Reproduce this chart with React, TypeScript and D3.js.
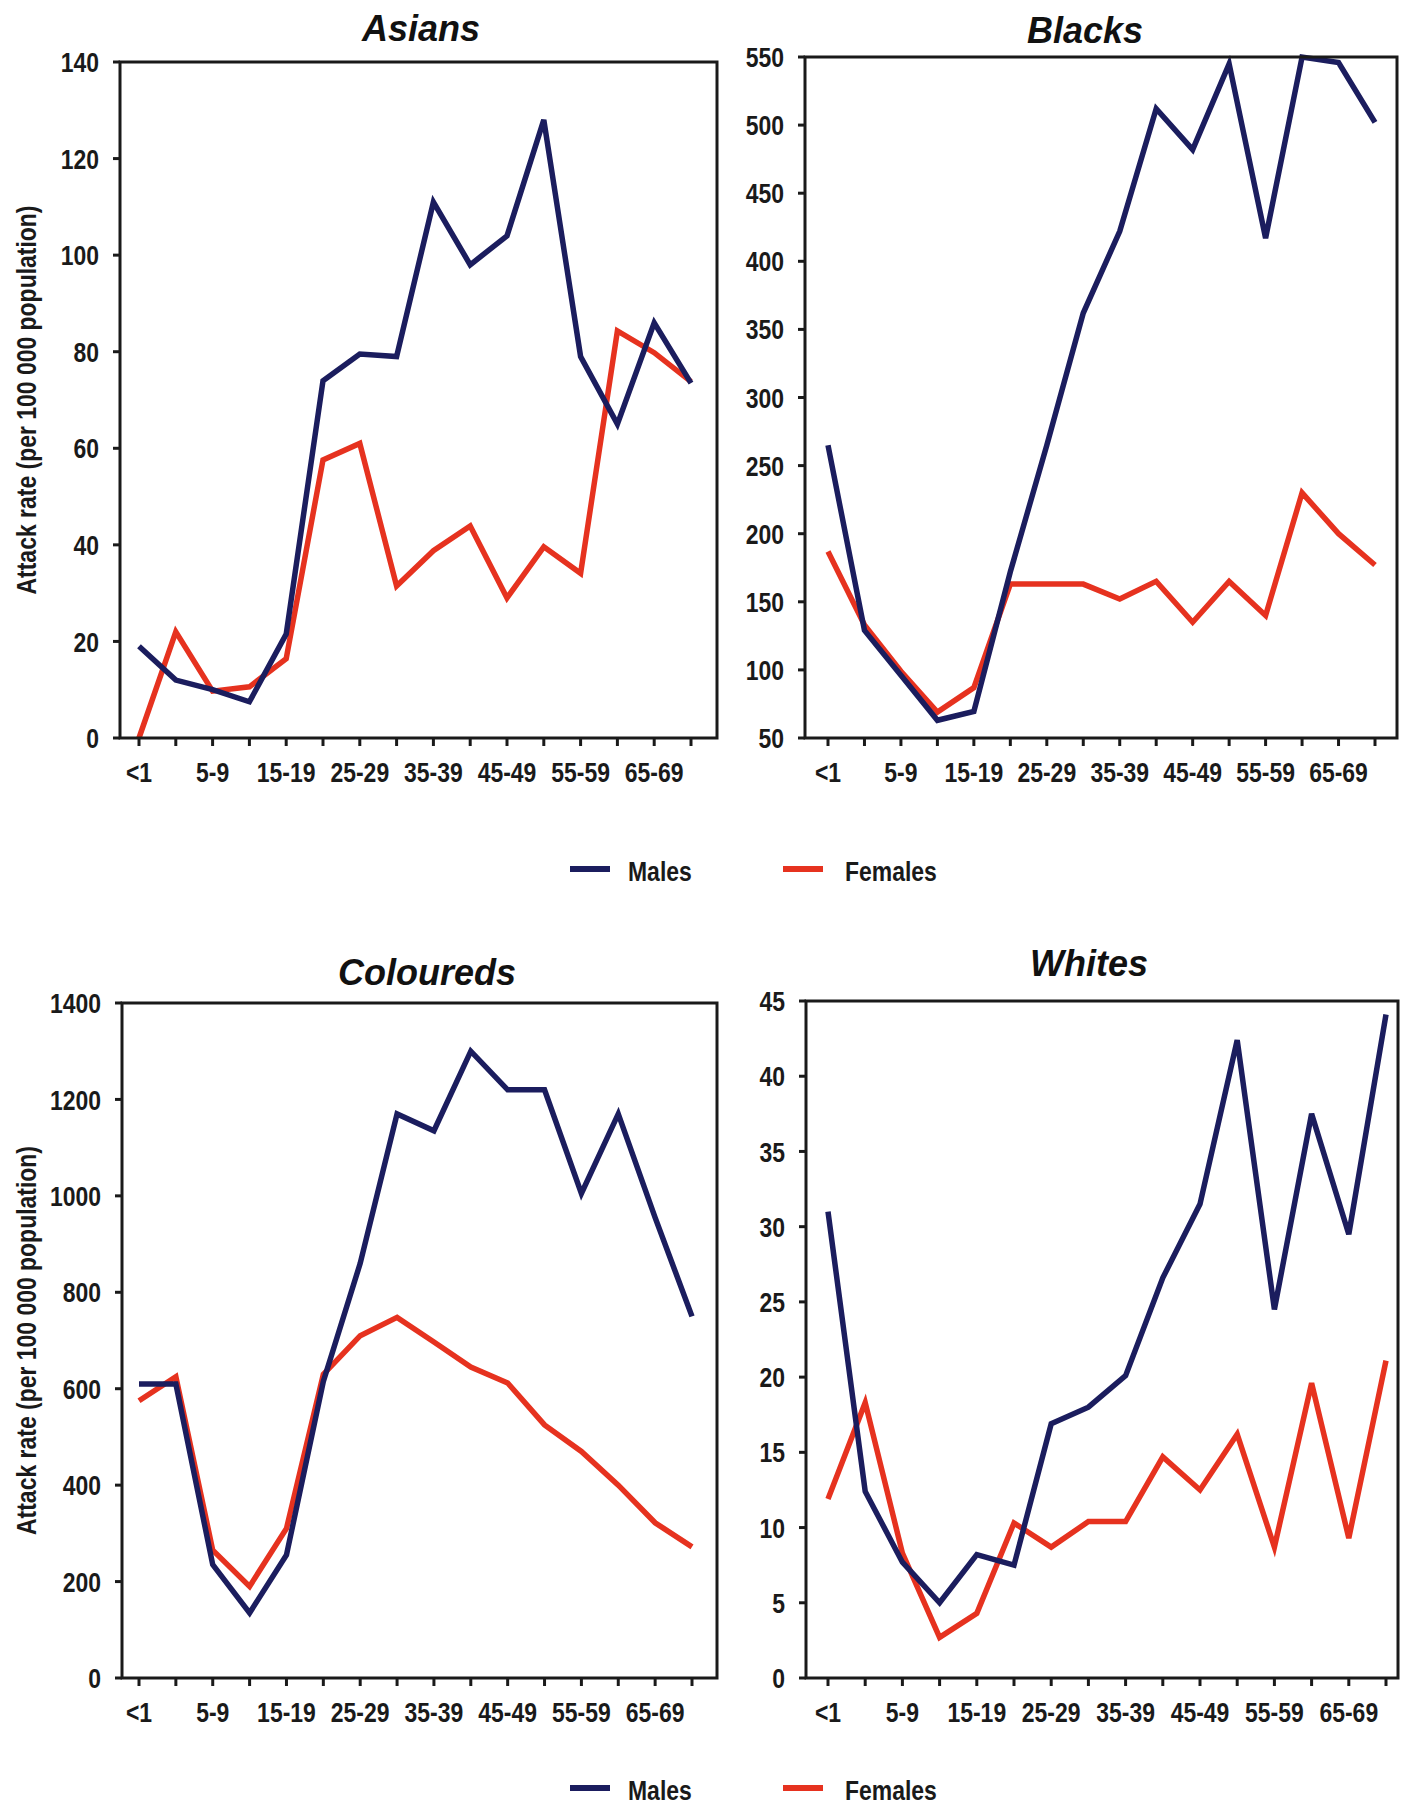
import React from 'react';
import * as d3 from 'd3';

// age groups on the x axis (every other one gets a label)
const ageGroups = ['<1', '1-4', '5-9', '10-14', '15-19', '20-24', '25-29', '30-34', '35-39', '40-44', '45-49', '50-54', '55-59', '60-64', '65-69', '70+'];
const shownAgeLabels = ['<1', '5-9', '15-19', '25-29', '35-39', '45-49', '55-59', '65-69'];

// attack rate per 100 000 population
const asiansMales = [19, 12, 10, 7.5, 21.5, 74, 79.5, 79, 111, 98, 104, 128, 79, 65, 86, 73.5];
const asiansFemales = [0, 22, 9.7, 10.6, 16.4, 57.6, 61, 31.5, 38.8, 43.9, 29, 39.6, 34.1, 84.3, 79.8, 73.8];
const blacksMales = [265, 129, 96, 63, 69.5, 172, 265, 362, 422, 512, 482, 545, 417, 550, 546, 502];
const blacksFemales = [187, 133, 99, 69, 87, 163, 163, 163, 152, 165, 135, 165, 140, 230, 200, 177];
const colouredsMales = [610, 610, 235, 135, 255, 615, 860, 1170, 1135, 1300, 1220, 1220, 1005, 1170, 955, 750];
const colouredsFemales = [575, 625, 265, 190, 310, 630, 710, 748, 697, 645, 612, 525, 470, 400, 322, 272];
const whitesMales = [31, 12.4, 7.7, 5, 8.2, 7.5, 16.9, 18, 20.1, 26.6, 31.5, 42.4, 24.5, 37.5, 29.5, 44.1];
const whitesFemales = [11.9, 18.3, 8.3, 2.7, 4.3, 10.3, 8.7, 10.4, 10.4, 14.7, 12.5, 16.2, 8.7, 19.6, 9.3, 21.1];

const asiansTicks = [0, 20, 40, 60, 80, 100, 120, 140];
const blacksTicks = [50, 100, 150, 200, 250, 300, 350, 400, 450, 500, 550];
const colouredsTicks = [0, 200, 400, 600, 800, 1000, 1200, 1400];
const whitesTicks = [0, 5, 10, 15, 20, 25, 30, 35, 40, 45];

const NAVY = '#1b1d5e';
const RED = '#e6321f';
const INK = '#1a1a1a';
const FONT = "'Liberation Sans', Arial, sans-serif";
const yLabel = 'Attack rate (per 100 000 population)';

const panels = [
  { title: 'Asians', males: asiansMales, females: asiansFemales, ticks: asiansTicks, domain: [0, 140],
    left: 120, right: 717, top: 62, bottom: 738, xr: [139, 691], titleX: 421, titleY: 41, yLab: true },
  { title: 'Blacks', males: blacksMales, females: blacksFemales, ticks: blacksTicks, domain: [50, 550],
    left: 805, right: 1397, top: 57, bottom: 738, xr: [828, 1375], titleX: 1085, titleY: 43, yLab: false },
  { title: 'Coloureds', males: colouredsMales, females: colouredsFemales, ticks: colouredsTicks, domain: [0, 1400],
    left: 122, right: 717, top: 1003, bottom: 1678, xr: [139, 692], titleX: 427, titleY: 985, yLab: true },
  { title: 'Whites', males: whitesMales, females: whitesFemales, ticks: whitesTicks, domain: [0, 45],
    left: 806, right: 1398, top: 1001, bottom: 1678, xr: [828, 1386], titleX: 1089, titleY: 976, yLab: false },
];

// condensed bold text: no narrow font installed, so squeeze Liberation Sans
const NText = ({ x, y, anchor = 'start', size = 27, rotate = false, dy, children }: any) => (
  <text transform={`translate(${x},${y})${rotate ? ' rotate(-90)' : ''} scale(0.82,1)`}
    textAnchor={anchor} dy={dy} fontFamily={FONT} fontWeight="bold" fontSize={size} fill={INK}>
    {children}
  </text>
);

const Panel = ({ p }: { p: any }) => {
  const x = d3.scalePoint().domain(ageGroups).range(p.xr);
  const y = d3.scaleLinear().domain(p.domain).range([p.bottom, p.top]);
  const line = d3.line<number>().x((_, i) => x(ageGroups[i]) as number).y(d => y(d));

  return (
    <g>
      <text x={p.titleX} y={p.titleY} textAnchor="middle" fontFamily={FONT} fontWeight="bold"
        fontStyle="italic" fontSize={36} fill="#111">{p.title}</text>

      {p.yLab && (
        <NText x={26} y={(p.top + p.bottom) / 2} rotate anchor="middle" dy="0.35em" size={28}>{yLabel}</NText>
      )}

      {p.ticks.map((t: number) =>
        <g key={t}>
          <line x1={p.left - 7} x2={p.left} y1={y(t)} y2={y(t)} stroke={INK} strokeWidth={3} />
          <NText x={p.left - 21} y={y(t)} dy="0.36em" anchor="end" size={28}>{t}</NText>
        </g>
      )}

      {ageGroups.map(a =>
        <line key={a} x1={x(a)} x2={x(a)} y1={p.bottom} y2={p.bottom + 8} stroke={INK} strokeWidth={3} />
      )}
      {shownAgeLabels.map(a =>
        <NText key={a} x={x(a)} y={p.bottom + 44} anchor="middle" size={28}>{a}</NText>
      )}

      <path d={line(p.females) || ''} fill="none" stroke={RED} strokeWidth={5.5} />
      <path d={line(p.males) || ''} fill="none" stroke={NAVY} strokeWidth={5.5} />

      <rect x={p.left} y={p.top} width={p.right - p.left} height={p.bottom - p.top}
        fill="none" stroke={INK} strokeWidth={3} />
    </g>
  );
};

const Legend = ({ y }: { y: number }) => (
  <g>
    <line x1={570} x2={610} y1={y} y2={y} stroke={NAVY} strokeWidth={6} />
    <NText x={628} y={y + 12} size={28}>Males</NText>
    <line x1={783} x2={823} y1={y} y2={y} stroke={RED} strokeWidth={6} />
    <NText x={845} y={y + 12} size={28}>Females</NText>
  </g>
);

export default function App() {
  return (
    <svg width={1406} height={1805} style={{ position: 'absolute', left: 0, top: 0, background: '#fff' }}>
      {panels.map(p => <Panel key={p.title} p={p} />)}
      <Legend y={869} />
      <Legend y={1788} />
    </svg>
  );
}
